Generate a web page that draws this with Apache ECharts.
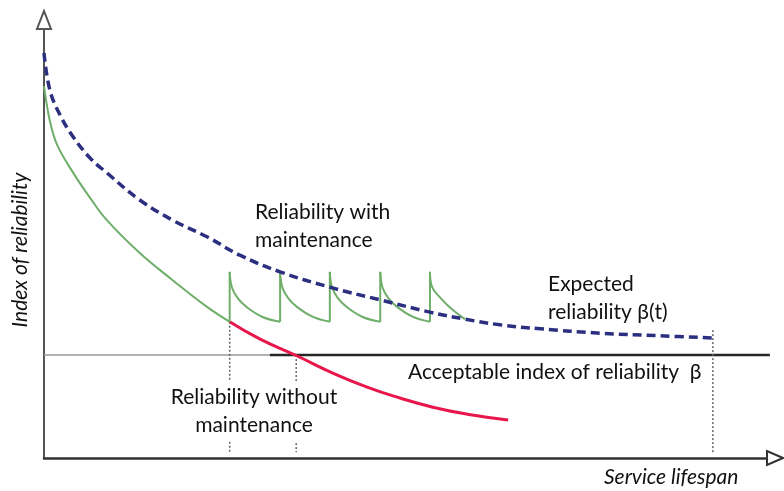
<!DOCTYPE html>
<html><head><meta charset="utf-8">
<script src="https://cdn.jsdelivr.net/npm/echarts@6/dist/echarts.min.js"></script>
<style>html,body{margin:0;padding:0;background:#fff}#c{width:784px;height:491px}</style>
</head><body><div id="c"></div>
<script>
// Expected reliability beta(t) (blue dashed)
const expectedX = [0, 0.8, 2.2, 4.0, 6.3, 8.6, 13.1, 17.6, 22.3, 26.8, 32.3, 39.1, 46.0, 52.8, 57.6, 62.4, 67.9, 76.1, 84.3, 91.5];
const expectedY = [92.5, 84.0, 78.3, 73.3, 68.5, 65.1, 58.9, 54.3, 50.5, 46.3, 42.5, 39.0, 36.1, 33.3, 31.7, 30.4, 29.5, 28.5, 27.9, 27.4];
// Reliability before first maintenance (green)
const initialX = [0, 0.8, 1.8, 4.0, 6.3, 8.6, 13.1, 17.6, 22.3, 25.4];
const initialY = [84.9, 77.0, 71.5, 65.1, 59.4, 54.3, 46.8, 40.6, 34.5, 31.1];
// Reliability with maintenance: each tooth after an intervention (green)
const toothX = [
  [25.4, 25.7, 26.5, 27.7, 29.9, 32.3],
  [32.3, 32.6, 33.4, 34.6, 36.8, 39.1],
  [39.1, 39.4, 40.2, 41.4, 43.6, 46.0],
  [46.0, 46.3, 47.1, 48.3, 50.5, 52.8],
  [52.8, 53.1, 54.2, 55.5, 56.9, 57.6]
];
const toothY = [
  [42.5, 39.0, 36.5, 34.5, 32.2, 31.1],
  [42.5, 39.0, 36.5, 34.5, 32.2, 31.1],
  [42.5, 39.0, 36.5, 34.5, 32.2, 31.1],
  [42.5, 39.0, 36.5, 34.5, 32.2, 31.1],
  [42.5, 39.0, 36.6, 34.4, 32.5, 31.7]
];
const maintenanceX = [25.4, 32.3, 39.1, 46.0, 52.8];
const maintenanceLow = [31.1, 31.1, 31.1, 31.1, 31.1];
const maintenanceHigh = [42.5, 42.5, 42.5, 42.5, 42.5];
// Reliability without maintenance (red)
const noMaintX = [25.4, 29.5, 34.5, 39.5, 44.2, 48.7, 53.2, 57.9, 63.5];
const noMaintY = [31.1, 27.2, 23.4, 19.4, 16.2, 13.7, 11.6, 10.0, 8.7];
// Acceptable index of reliability beta
const acceptableLevel = 23.5;
const acceptableStart = [0, 30.9];
const acceptableEnd = [30.9, 99.3];
// Dotted reference verticals
const dropX = [25.4, 34.5, 91.5];
const dropTop = [31.1, 23.5, 29.2];
const dropBottom = [1.3, 1.3, 1.3];

const pairs = (xs, ys) => xs.map((x, i) => [x, ys[i]]);
const base = {type: 'line', symbol: 'none', silent: true, animation: false};
const green = '#6fae6a';
const series = [];

series.push(Object.assign({}, base, {data: [[acceptableStart[0], acceptableLevel], [acceptableStart[1], acceptableLevel]], lineStyle: {color: '#9a9a9a', width: 1.5}}));
series.push(Object.assign({}, base, {data: [[acceptableEnd[0], acceptableLevel], [acceptableEnd[1], acceptableLevel]], lineStyle: {color: '#262626', width: 2.5}}));
dropX.forEach((x, i) => series.push(Object.assign({}, base, {data: [[x, dropTop[i]], [x, dropBottom[i]]], lineStyle: {color: '#666', width: 1.5, type: [2, 2]}})));
series.push(Object.assign({}, base, {data: pairs(noMaintX, noMaintY), smooth: true, lineStyle: {color: '#e8174b', width: 3}, z: 4}));
series.push(Object.assign({}, base, {data: pairs(initialX, initialY), smooth: 0.4, lineStyle: {color: green, width: 2}, z: 5}));
toothX.forEach((xs, i) => series.push(Object.assign({}, base, {data: pairs(xs, toothY[i]), smooth: 0.4, lineStyle: {color: green, width: 2}, z: 5})));
maintenanceX.forEach((x, i) => series.push(Object.assign({}, base, {data: [[x, maintenanceLow[i]], [x, maintenanceHigh[i]]], lineStyle: {color: green, width: 2}, z: 5})));
series.push(Object.assign({}, base, {data: pairs(expectedX, expectedY), smooth: 0.4, lineStyle: {color: '#2c2f80', width: 3.5, type: [9, 5]}, z: 6}));

const fontFam = 'Lato, "Open Sans", sans-serif';
const txt = (x, y, text, extra) => Object.assign({type: 'text', x: x, y: y, z: 100, silent: true,
  style: Object.assign({text: text, fill: '#111', font: '21px ' + fontFam, textAlign: 'left', verticalAlign: 'middle', lineHeight: 28}, extra || {})});

const option = {
  backgroundColor: '#fff',
  animation: false,
  grid: {left: 44, right: 9, top: 20, bottom: 33},
  xAxis: {type: 'value', min: 0, max: 100, splitLine: {show: false}, axisTick: {show: false}, axisLabel: {show: false},
    axisLine: {show: true, symbol: ['none', 'emptyTriangle'], symbolSize: [14, 16], lineStyle: {color: '#333', width: 2.5}}},
  yAxis: {type: 'value', min: 0, max: 100, splitLine: {show: false}, axisTick: {show: false}, axisLabel: {show: false},
    axisLine: {show: true, symbol: ['none', 'emptyTriangle'], symbolSize: [14, 18], lineStyle: {color: '#555', width: 2}}},
  series: series,
  graphic: [
    txt(255, 226, 'Reliability with\nmaintenance'),
    txt(548, 298, 'Expected\nreliability β(t)'),
    txt(408, 372, 'Acceptable index of reliability  β'),
    txt(254, 411, 'Reliability without\nmaintenance', {textAlign: 'center', backgroundColor: '#fff', padding: [2, 4]}),
    txt(604, 477, 'Service lifespan', {font: 'italic 21px ' + fontFam}),
    Object.assign(txt(20, 250, 'Index of reliability', {font: 'italic 21px ' + fontFam, textAlign: 'center'}), {rotation: Math.PI / 2})
  ]
};
const chart = echarts.init(document.getElementById('c'));
chart.setOption(option);
</script></body></html>
